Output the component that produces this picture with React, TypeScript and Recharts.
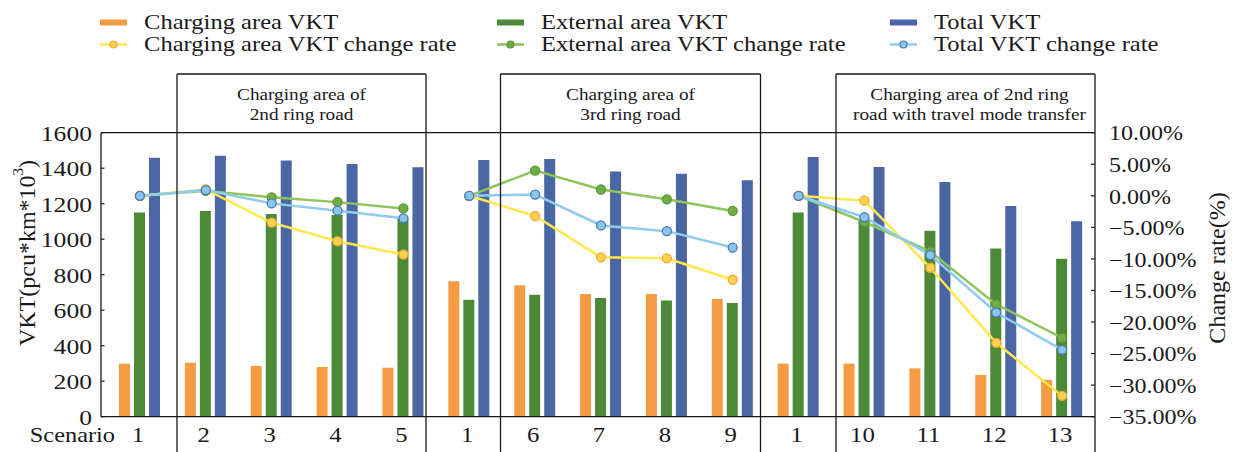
import React from "react";
import { ComposedChart, Bar, Line, XAxis, YAxis } from "recharts";

const scenarios = ["1", "2", "3", "4", "5", "1", "6", "7", "8", "9", "1", "10", "11", "12", "13"];
// which box/segment each scenario belongs to (lines break between segments)
const segmentOf = [0, 0, 0, 0, 0, 1, 1, 1, 1, 1, 2, 2, 2, 2, 2];

const chargingVkt = [299, 304, 286, 280, 276, 763, 740, 691, 691, 663, 299, 299, 272, 235, 208];
const externalVkt = [1151, 1159, 1142, 1136, 1119, 659, 687, 669, 654, 640, 1151, 1103, 1048, 948, 890];
const totalVkt = [1459, 1470, 1444, 1424, 1405, 1446, 1452, 1382, 1369, 1332, 1463, 1407, 1322, 1187, 1101];

const chargingRate = [0, 1.0, -4.26, -7.2, -9.3, 0, -3.2, -9.75, -9.9, -13.3, 0, -0.77, -11.4, -23.3, -31.7];
const externalRate = [0, 0.8, -0.24, -1.0, -2.0, 0, 4.0, 1.0, -0.55, -2.4, 0, -4.15, -8.85, -17.2, -22.5];
const totalRate = [0, 0.9, -1.2, -2.36, -3.57, 0, 0.2, -4.7, -5.6, -8.2, 0, -3.4, -9.4, -18.5, -24.4];

const vktTicks = [0, 200, 400, 600, 800, 1000, 1200, 1400, 1600];
const rateTicks = [10, 5, 0, -5, -10, -15, -20, -25, -30, -35];

const boxTitles = [
  ["Charging area of", "2nd ring road"],
  ["Charging area of", "3rd ring road"],
  ["Charging area of 2nd ring", "road with travel mode transfer"],
];

const FONT = '"Liberation Serif", "Times New Roman", serif';
const INK = "#1a1a1a";

const C = {
  orange: "#F59B43",
  green: "#4C8A37",
  blue: "#4A67A3",
  yellowLine: "#FFE84C",
  yellowDot: "#FFD24F",
  yellowDotEdge: "#F5A83A",
  greenLine: "#8DC45B",
  greenDot: "#6FAE45",
  greenDotEdge: "#5A963A",
  skyLine: "#8ECBEE",
  skyDot: "#8AC6EA",
  skyDotEdge: "#4A78BD",
};

const rateSeries = [
  { key: "cr", values: chargingRate, line: C.yellowLine, dot: C.yellowDot, edge: C.yellowDotEdge },
  { key: "er", values: externalRate, line: C.greenLine, dot: C.greenDot, edge: C.greenDotEdge },
  { key: "tr", values: totalRate, line: C.skyLine, dot: C.skyDot, edge: C.skyDotEdge },
];
// draw order: green under yellow under blue
const drawOrder = [1, 0, 2];

const rows = scenarios.map((s, i) => {
  const row: Record<string, any> = {
    scenario: s,
    charging: chargingVkt[i],
    external: externalVkt[i],
    total: totalVkt[i],
  };
  rateSeries.forEach((r) => {
    for (let seg = 0; seg < 3; seg++) {
      row[r.key + seg] = segmentOf[i] === seg ? r.values[i] : null;
    }
  });
  return row;
});

const fmtRate = (v: number) => (v < 0 ? "\u2212" : "") + Math.abs(v).toFixed(2) + "%";

// the source figure is stretched sideways, so text is drawn a bit wider than tall
function SText(props: {
  x: number;
  y: number;
  size: number;
  sx?: number;
  anchor?: "start" | "middle" | "end";
  central?: boolean;
  children: React.ReactNode;
}) {
  const { x, y, size, sx = 1.15, anchor = "start", central, children } = props;
  return (
    <text
      transform={`translate(${x},${y}) scale(${sx},1)`}
      textAnchor={anchor}
      dominantBaseline={central ? "central" : undefined}
      fontFamily={FONT}
      fontSize={size}
      fill={INK}
    >
      {children}
    </text>
  );
}

const LeftTick = (props: any) => {
  const { x, y, payload } = props;
  return (
    <g>
      <line x1={x} x2={x + 3.5} y1={y} y2={y} stroke={INK} strokeWidth={1.2} />
      <SText x={x - 9} y={y + 1} size={21} sx={1.22} anchor="end" central>
        {payload.value}
      </SText>
    </g>
  );
};

const RightTick = (props: any) => {
  const { x, y, payload } = props;
  return (
    <g>
      <line x1={x - 4} x2={x} y1={y} y2={y} stroke={INK} strokeWidth={1.2} />
      <SText x={x + 14} y={y + 1} size={20} sx={1.2} anchor="start" central>
        {fmtRate(payload.value)}
      </SText>
    </g>
  );
};

const BottomTick = (props: any) => {
  const { x, y, payload } = props;
  return (
    <SText x={x - 2} y={y + 25} size={21} sx={1.18} anchor="middle">
      {payload.value}
    </SText>
  );
};

const W = 1233;
const H = 452;
const PLOT_LEFT = 101;
const PLOT_RIGHT = 1095;
const PLOT_TOP = 132.7;
const PLOT_BOTTOM = 416.7;

const boxes = [
  { x1: 177, x2: 426 },
  { x1: 500.5, x2: 760.5 },
  { x1: 836, x2: PLOT_RIGHT },
];
const BOX_TOP = 74;

function Legend() {
  const items = [
    { x: 100, row: 0, label: "Charging area VKT", color: C.orange, kind: "bar" },
    { x: 100, row: 1, label: "Charging area VKT change rate", color: C.yellowLine, dot: C.yellowDot, edge: C.yellowDotEdge, kind: "line" },
    { x: 497, row: 0, label: "External area VKT", color: C.green, kind: "bar" },
    { x: 497, row: 1, label: "External area VKT change rate", color: C.greenLine, dot: C.greenDot, edge: C.greenDotEdge, kind: "line" },
    { x: 890, row: 0, label: "Total VKT", color: C.blue, kind: "bar" },
    { x: 890, row: 1, label: "Total VKT change rate", color: C.skyLine, dot: C.skyDot, edge: C.skyDotEdge, kind: "line" },
  ];
  return (
    <g>
      {items.map((it, i) => {
        const cy = it.row === 0 ? 22.5 : 44.5;
        return (
          <g key={i}>
            {it.kind === "bar" ? (
              <rect x={it.x} y={cy - 3} width={27} height={6} fill={it.color} />
            ) : (
              <g>
                <line x1={it.x} x2={it.x + 27} y1={cy} y2={cy} stroke={it.color} strokeWidth={2.5} />
                <circle cx={it.x + 13.5} cy={cy} r={3.5} fill={it.dot} stroke={it.edge} strokeWidth={1.2} />
              </g>
            )}
            <SText x={it.x + 44} y={cy + 6.5} size={21} sx={1.17}>
              {it.label}
            </SText>
          </g>
        );
      })}
    </g>
  );
}

function Frame() {
  const seps = [boxes[0].x1, boxes[0].x2, boxes[1].x1, boxes[1].x2, boxes[2].x1];
  return (
    <svg width={W} height={H} style={{ position: "absolute", left: 0, top: 0, pointerEvents: "none" }}>
      <Legend />
      <line x1={PLOT_LEFT} x2={PLOT_RIGHT} y1={PLOT_TOP} y2={PLOT_TOP} stroke={INK} strokeWidth={1.3} />
      {boxes.map((b, i) => (
        <g key={i}>
          <line x1={b.x1} x2={b.x2} y1={BOX_TOP} y2={BOX_TOP} stroke={INK} strokeWidth={1.3} />
          <line x1={b.x1} x2={b.x1} y1={BOX_TOP} y2={PLOT_TOP} stroke={INK} strokeWidth={1.3} />
          <line x1={b.x2} x2={b.x2} y1={BOX_TOP} y2={PLOT_TOP} stroke={INK} strokeWidth={1.3} />
          {boxTitles[i].map((t, j) => (
            <SText key={j} x={(b.x1 + b.x2) / 2 + (i === 2 ? 4 : 0)} y={100 + j * 20} size={17.5} sx={1.1} anchor="middle">
              {t}
            </SText>
          ))}
        </g>
      ))}
      {seps.map((x, i) => (
        <line key={i} x1={x} x2={x} y1={PLOT_TOP} y2={H} stroke={INK} strokeWidth={1.3} />
      ))}
      <line x1={PLOT_RIGHT} x2={PLOT_RIGHT} y1={PLOT_TOP} y2={H} stroke={INK} strokeWidth={1.3} />
      <SText x={115} y={442} size={21} sx={1.16} anchor="end">
        Scenario
      </SText>
      <text
        transform="translate(27,253) rotate(-90)"
        textAnchor="middle"
        dominantBaseline="central"
        fontFamily={FONT}
        fontSize={24}
        fill={INK}
      >
        VKT(pcu*km*10
        <tspan fontSize={15} dy={-9}>3</tspan>
        <tspan dy={9}>)</tspan>
      </text>
      <text
        transform="translate(1217,268) rotate(-90)"
        textAnchor="middle"
        dominantBaseline="central"
        fontFamily={FONT}
        fontSize={24}
        fill={INK}
      >
        Change rate(%)
      </text>
    </svg>
  );
}

export default function App() {
  return (
    <div style={{ position: "absolute", left: 0, top: 0, width: W, height: H, background: "#fff" }}>
      <ComposedChart
        width={W}
        height={H}
        data={rows}
        margin={{ top: PLOT_TOP, bottom: H - PLOT_BOTTOM - 30, left: PLOT_LEFT - 60, right: W - PLOT_RIGHT - 100 }}
        barSize={11}
        barGap={4}
      >
        <XAxis
          dataKey="scenario"
          height={30}
          padding={{ left: 6, right: 0 }}
          axisLine={{ stroke: INK, strokeWidth: 1.3 }}
          tickLine={false}
          tickSize={0}
          tickMargin={0}
          interval={0}
          tick={<BottomTick />}
        />
        <YAxis
          yAxisId="left"
          width={60}
          domain={[0, 1600]}
          ticks={vktTicks}
          interval={0}
          axisLine={{ stroke: INK, strokeWidth: 1.3 }}
          tickLine={false}
          tickSize={0}
          tickMargin={0}
          tick={<LeftTick />}
        />
        <YAxis
          yAxisId="right"
          orientation="right"
          width={100}
          domain={[-35, 10]}
          ticks={rateTicks}
          interval={0}
          axisLine={false}
          tickLine={false}
          tickSize={0}
          tickMargin={0}
          tick={<RightTick />}
        />
        <Bar yAxisId="left" dataKey="charging" fill={C.orange} isAnimationActive={false} />
        <Bar yAxisId="left" dataKey="external" fill={C.green} isAnimationActive={false} />
        <Bar yAxisId="left" dataKey="total" fill={C.blue} isAnimationActive={false} />
        {drawOrder.map((si) =>
          [0, 1, 2].map((seg) => {
            const r = rateSeries[si];
            return (
              <Line
                key={r.key + seg}
                yAxisId="right"
                type="linear"
                dataKey={r.key + seg}
                stroke={r.line}
                strokeWidth={2.5}
                dot={{ r: 4.5, fill: r.dot, stroke: r.edge, strokeWidth: 1.3 }}
                activeDot={false}
                connectNulls={false}
                legendType="none"
                isAnimationActive={false}
              />
            );
          })
        )}
      </ComposedChart>
      <Frame />
    </div>
  );
}
